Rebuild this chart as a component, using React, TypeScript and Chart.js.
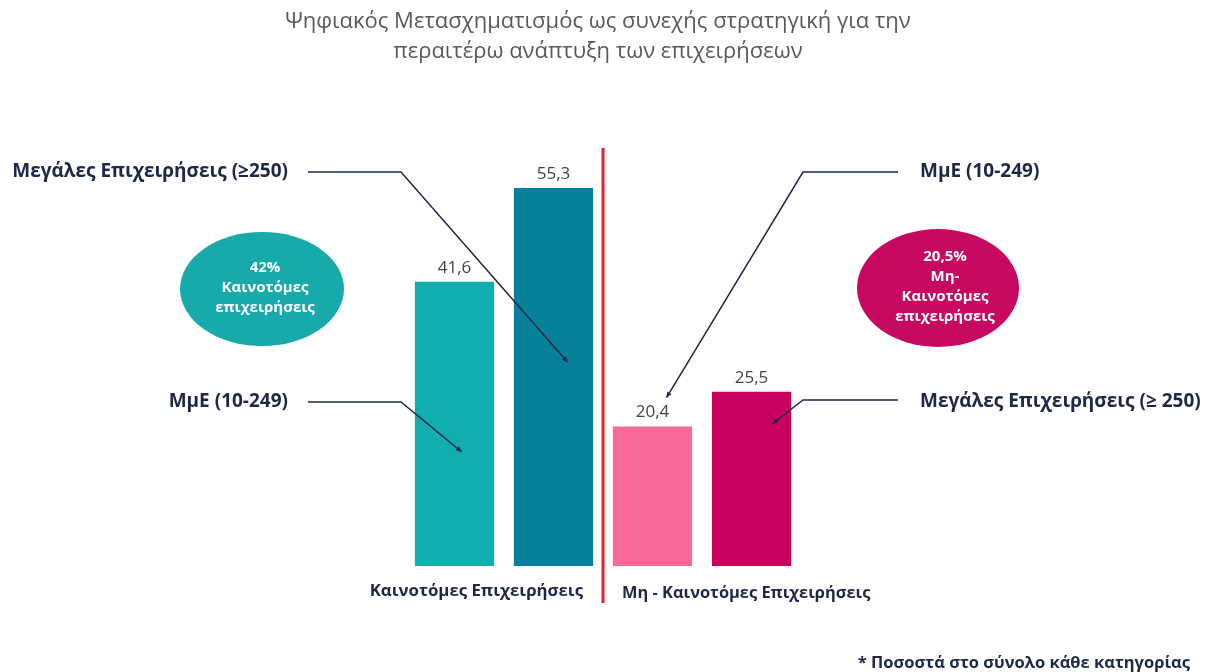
import React, { useEffect, useRef } from "react";
import { Chart, registerables } from "chart.js";

Chart.register(...registerables);

const titleLines = [
  "Ψηφιακός Μετασχηματισμός ως συνεχής στρατηγική για την",
  "περαιτέρω ανάπτυξη των επιχειρήσεων",
];
const categories = [
  "Καινοτόμες – ΜμΕ",
  "Καινοτόμες – Μεγάλες",
  "Μη-Καινοτόμες – ΜμΕ",
  "Μη-Καινοτόμες – Μεγάλες",
];
const values = [41.6, 55.3, 20.4, 25.5];
const barColors = ["#12adaf", "#07809c", "#f8689a", "#c8005e"];
const groupLabels = ["Καινοτόμες Επιχειρήσεις", "Μη - Καινοτόμες Επιχειρήσεις"];
const calloutTexts = [
  "Μεγάλες Επιχειρήσεις (≥250)",
  "ΜμΕ (10-249)",
  "ΜμΕ (10-249)",
  "Μεγάλες Επιχειρήσεις (≥ 250)",
];
const bubbleLeft = ["42%", "Καινοτόμες", "επιχειρήσεις"];
const bubbleRight = ["20,5%", "Μη-", "Καινοτόμες", "επιχειρήσεις"];
const footnote = "* Ποσοστά στο σύνολο κάθε κατηγορίας";

const FONT = "'Open Sans', 'Noto Sans', sans-serif";
const NAVY = "#1d2847";

// callout layout: text anchor, elbow, target bar and offset from bar top
const calloutLayout = [
  { bar: 1, tx: 288, ty: 172, align: "right", x0: 308, x1: 401, ly: 172, dx: 14, dy: 174 },
  { bar: 0, tx: 288, ty: 402, align: "right", x0: 308, x1: 401, ly: 402, dx: 7, dy: 170 },
  { bar: 2, tx: 920, ty: 172, align: "left", x0: 898, x1: 803, ly: 172, dx: 14, dy: -29 },
  { bar: 3, tx: 920, ty: 402, align: "left", x0: 898, x1: 803, ly: 400, dx: 21, dy: 32 },
];

function arrowHead(ctx: CanvasRenderingContext2D, fx: number, fy: number, tx: number, ty: number) {
  const ang = Math.atan2(ty - fy, tx - fx);
  const len = 6;
  ctx.beginPath();
  ctx.moveTo(tx, ty);
  ctx.lineTo(tx - len * Math.cos(ang - 0.45), ty - len * Math.sin(ang - 0.45));
  ctx.lineTo(tx - len * Math.cos(ang + 0.45), ty - len * Math.sin(ang + 0.45));
  ctx.closePath();
  ctx.fill();
}

const decorPlugin = {
  id: "decor",
  afterDraw(chart: any) {
    const ctx: CanvasRenderingContext2D = chart.ctx;
    const bars = chart.getDatasetMeta(0).data;
    const base = bars[0].base;
    ctx.save();

    // title
    ctx.fillStyle = "#595959";
    ctx.font = `22px ${FONT}`;
    ctx.textAlign = "center";
    ctx.textBaseline = "middle";
    titleLines.forEach((t, i) => ctx.fillText(t, 598, 22 + i * 30));

    // value labels
    ctx.fillStyle = "#444";
    ctx.font = `17px ${FONT}`;
    bars.forEach((b: any, i: number) => {
      ctx.fillText(String(values[i]).replace(".", ","), b.x, b.y - 14);
    });

    // red divider
    const redX = (bars[1].x + bars[2].x) / 2;
    ctx.strokeStyle = "#e81f2a";
    ctx.lineWidth = 3;
    ctx.beginPath();
    ctx.moveTo(redX, chart.chartArea.top - 8);
    ctx.lineTo(redX, base + 37);
    ctx.stroke();

    // group labels
    ctx.fillStyle = NAVY;
    ctx.font = `bold 16.8px ${FONT}`;
    ctx.textAlign = "right";
    ctx.fillText(groupLabels[0], redX - 20, base + 25);
    ctx.font = `bold 16.4px ${FONT}`;
    ctx.textAlign = "left";
    ctx.fillText(groupLabels[1], redX + 19, base + 27);

    // callouts
    ctx.font = `bold 19px ${FONT}`;
    ctx.strokeStyle = NAVY;
    ctx.lineWidth = 1.5;
    calloutLayout.forEach((c, i) => {
      ctx.fillStyle = NAVY;
      ctx.textAlign = c.align === "left" ? "left" : "right";
      ctx.fillText(calloutTexts[i], c.tx, c.ty);
      const b = bars[c.bar];
      const tx = b.x + c.dx;
      const ty = b.y + c.dy;
      ctx.beginPath();
      ctx.moveTo(c.x0, c.ly);
      ctx.lineTo(c.x1, c.ly);
      ctx.lineTo(tx, ty);
      ctx.stroke();
      arrowHead(ctx, c.x1, c.ly, tx, ty);
    });

    // bubbles
    const drawBubble = (cx: number, cy: number, rx: number, ry: number, color: string, lines: string[], tx: number, y0: number, step: number) => {
      ctx.fillStyle = color;
      ctx.beginPath();
      ctx.ellipse(cx, cy, rx, ry, 0, 0, Math.PI * 2);
      ctx.fill();
      ctx.fillStyle = "#ffffff";
      ctx.font = `bold 15px ${FONT}`;
      ctx.textAlign = "center";
      lines.forEach((l, i) => ctx.fillText(l, tx, y0 + i * step));
    };
    drawBubble(262, 289, 82, 57, "#18aaab", bubbleLeft, 265, 268, 20);
    drawBubble(938, 288, 81, 59, "#c70860", bubbleRight, 945, 257, 20);

    // footnote
    ctx.fillStyle = NAVY;
    ctx.font = `bold 16.5px ${FONT}`;
    ctx.textAlign = "right";
    ctx.fillText(footnote, 1190, 663);

    ctx.restore();
  },
};

export default function App() {
  const ref = useRef<HTMLCanvasElement>(null);
  useEffect(() => {
    document.body.style.margin = "0";
    const chart = new Chart(ref.current!, {
      type: "bar",
      data: {
        labels: categories,
        datasets: [
          {
            data: values,
            backgroundColor: barColors,
            borderWidth: 0,
            barPercentage: 0.8,
            categoryPercentage: 1,
          },
        ],
      },
      options: {
        animation: false,
        responsive: false,
        events: [],
        layout: { padding: { left: 405, right: 408, top: 156, bottom: 106 } },
        plugins: {
          legend: { display: false },
          tooltip: { enabled: false },
        },
        scales: {
          x: { display: false, offset: true },
          y: { display: false, min: 0, max: 60 },
        },
      },
      plugins: [decorPlugin],
    });
    return () => chart.destroy();
  }, []);
  return (
    <div style={{ width: 1209, height: 672, background: "#fff" }}>
      <canvas ref={ref} width={1209} height={672} style={{ display: "block" }} />
    </div>
  );
}
